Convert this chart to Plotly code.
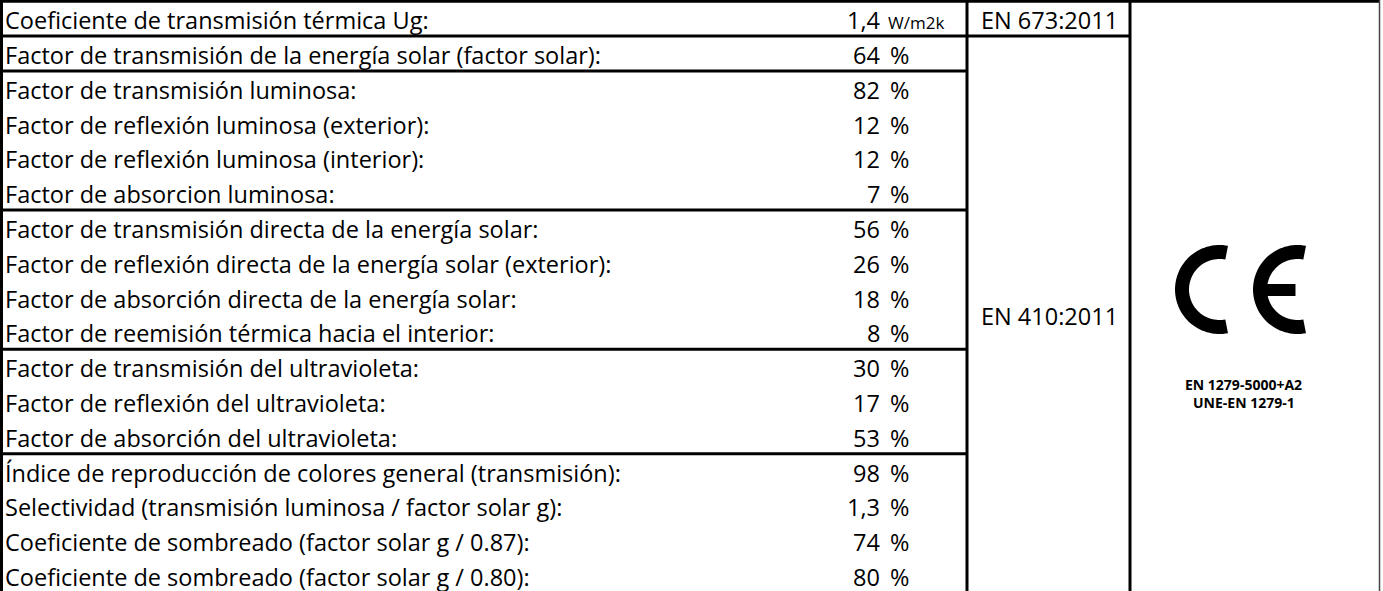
import numpy as np
import plotly.graph_objects as go

# ---------------- data ----------------
labels = [
    "Coeficiente de transmisión térmica Ug:",
    "Factor de transmisión de la energía solar (factor solar):",
    "Factor de transmisión luminosa:",
    "Factor de reflexión luminosa (exterior):",
    "Factor de reflexión luminosa (interior):",
    "Factor de absorcion luminosa:",
    "Factor de transmisión directa de la energía solar:",
    "Factor de reflexión directa de la energía solar (exterior):",
    "Factor de absorción directa de la energía solar:",
    "Factor de reemisión térmica hacia el interior:",
    "Factor de transmisión del ultravioleta:",
    "Factor de reflexión del ultravioleta:",
    "Factor de absorción del ultravioleta:",
    "Índice de reproducción de colores general (transmisión):",
    "Selectividad (transmisión luminosa / factor solar g):",
    "Coeficiente de sombreado (factor solar g / 0.87):",
    "Coeficiente de sombreado (factor solar g / 0.80):",
]
values = [1.4, 64, 82, 12, 12, 7, 56, 26, 18, 8, 30, 17, 53, 98, 1.3, 74, 80]
units = ["W/m2k"] + ["%"] * 16
group_sizes = [1, 1, 4, 4, 3, 4]
standards = ["EN 673:2011", "EN 410:2011"]
standard_rows = [1, 16]          # rows spanned by each standard cell
ce_notes = ["EN 1279-5000+A2", "UNE-EN 1279-1"]

# ---------------- layout constants ----------------
W, H = 1383, 591
ROW_TOP, ROW_H = 1.3, 34.8
X_LEFT, X_VAL, X_STD, X_CE, X_RIGHT = 1.5, 967, 1130, 1130, 1379.5
FONT = "Open Sans, Calibri, Carlito, sans-serif"
FS = 23.5


def fmt(v):
    if float(v).is_integer():
        return str(int(v))
    return str(v).replace(".", ",")


def row_center(i):
    return ROW_TOP + (i + 0.5) * ROW_H


fig = go.Figure()
fig.add_trace(go.Scatter(x=[0, W], y=[0, H], mode="markers",
                         marker=dict(opacity=0), hoverinfo="skip", showlegend=False))

ann = []
for i, (lab, v, u) in enumerate(zip(labels, values, units)):
    yc = row_center(i) + 1.5
    ann.append(dict(x=3, y=yc, text=lab, xanchor="left", yanchor="middle",
                    showarrow=False, font=dict(family=FONT, size=FS, color="black")))
    ann.append(dict(x=882, y=yc, text=fmt(v), xanchor="right", yanchor="middle",
                    showarrow=False, font=dict(family=FONT, size=FS, color="black")))
    small = (u != "%")
    ann.append(dict(x=886 if small else 888, y=yc + (2 if small else 0), text=u,
                    xanchor="left", yanchor="middle", showarrow=False,
                    font=dict(family=FONT, size=17 if small else FS, color="black")))

# standard cells (vertically centred in their merged ranges)
start = 0
for s, n in zip(standards, standard_rows):
    yc = ROW_TOP + (start + n / 2) * ROW_H + 1.5
    ann.append(dict(x=(X_VAL + X_STD) / 2 + 1, y=yc, text=s, xanchor="center", yanchor="middle",
                    showarrow=False, font=dict(family=FONT, size=FS, color="black")))
    start += n

# CE notes
for k, t in enumerate(ce_notes):
    ann.append(dict(x=1243.5, y=384 + k * 18, text="<b>%s</b>" % t,
                    xanchor="center", yanchor="middle", showarrow=False,
                    font=dict(family=FONT, size=14, color="black")))

shapes = []
LW = 3


def hline(y, x0, x1, w=LW):
    shapes.append(dict(type="line", x0=x0, x1=x1, y0=y, y1=y, xref="x", yref="y",
                       line=dict(color="black", width=w)))


def vline(x, y0, y1, w=LW, color="black"):
    shapes.append(dict(type="line", x0=x, x1=x, y0=y0, y1=y1, xref="x", yref="y",
                       line=dict(color=color, width=w)))


bottom = ROW_TOP + len(labels) * ROW_H
hline(ROW_TOP, 0, X_RIGHT)
# group boundaries
cum = np.cumsum(group_sizes)
for j, c in enumerate(cum[:-1]):
    y = ROW_TOP + c * ROW_H
    hline(y, 0, X_STD if c == standard_rows[0] else X_VAL)
hline(bottom, 0, X_RIGHT)
vline(X_LEFT, 0, bottom)
vline(X_VAL, 0, bottom)
vline(X_STD, 0, bottom)
vline(X_RIGHT, 0, bottom, w=1.5, color="#444")


# CE mark
def arc_path(cx, cy, R, r, a0, a1):
    th = np.radians(np.linspace(a0, a1, 60))
    ox = cx + R * np.cos(th); oy = cy - R * np.sin(th)
    ix = cx + r * np.cos(th[::-1]); iy = cy - r * np.sin(th[::-1])
    pts = list(zip(ox, oy)) + list(zip(ix, iy))
    return "M " + " L ".join("%.2f,%.2f" % p for p in pts) + " Z"


cy, R, r = 289.5, 44.5, 30.5
for cx in (1219.5, 1297.5):
    shapes.append(dict(type="path", path=arc_path(cx, cy, R, r, 79, 281), xref="x", yref="y",
                       fillcolor="black", line=dict(width=0)))
shapes.append(dict(type="rect", x0=1297.5 - r - 1, x1=1295.5, y0=284, y1=296, xref="x", yref="y",
                   fillcolor="black", line=dict(width=0)))

fig.update_layout(
    width=W, height=H, margin=dict(l=0, r=0, t=0, b=0),
    paper_bgcolor="white", plot_bgcolor="white",
    xaxis=dict(range=[0, W], visible=False, fixedrange=True),
    yaxis=dict(range=[H, 0], visible=False, fixedrange=True),
    annotations=ann, shapes=shapes, showlegend=False,
)
fig.write_html("out.html", config={"displayModeBar": False},
               post_script="document.body.style.margin='0';document.body.style.overflow='hidden';")
